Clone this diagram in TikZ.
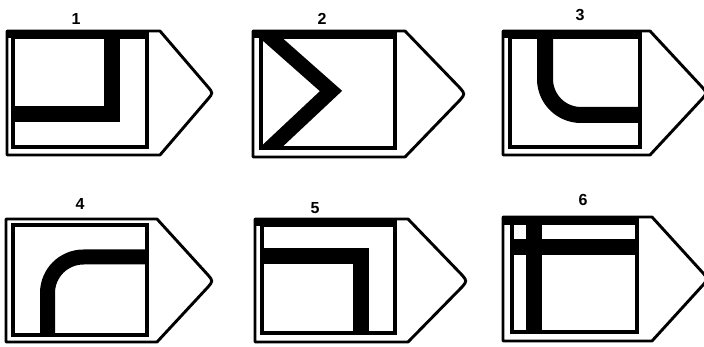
\documentclass[tikz,border=0pt]{standalone}
\usepackage{fontspec}
\setsansfont{Liberation Sans}
\usetikzlibrary{calc}
% #1 left, #2 top, #3 bottom, #4 shoulder x, #5 tip x, #6 tip y
\newcommand\signoutline[6]{%
  \draw[outer] (#1,#2) -- (#4,#2) -- ($(#5,#6)+(-5,-6)$) .. controls (#5,#6) .. ($(#5,#6)+(-5,6)$) -- (#4,#3) -- (#1,#3) -- cycle;}
\begin{document}
\begin{tikzpicture}[x=1pt,y=-1pt,
  outer/.style={draw=black,line width=2.9pt,line join=round},
  inner/.style={draw=black,line width=3.4pt},
  topband/.style={fill=black},
  band/.style={draw=black,line width=16pt,line cap=butt,line join=miter},
  lab/.style={font=\sffamily\bfseries\fontsize{16}{16}\selectfont,inner sep=0pt}]
\useasboundingbox (0,0) rectangle (704,347);
\fill[white] (0,0) rectangle (704,347);
\clip (0,0) rectangle (704,347);

% labels
\node[lab] (l1) at (76,19) {1};
\node[lab] (l2) at (322,19) {2};
\node[lab] (l3) at (580,15) {3};
\node[lab] (l4) at (80,204) {4};
\node[lab] (l5) at (315,208) {5};
\node[lab] (l6) at (583,200) {6};

% outlines
\signoutline{7}{31}{155}{160}{213}{93}
\signoutline{253}{31}{157}{405}{465}{94}
\signoutline{503}{31}{155}{650}{707}{93}
\signoutline{6}{219}{342}{157}{213}{281}
\signoutline{255}{219}{342}{408}{467}{281}
\signoutline{503}{217}{341}{652}{708}{279}

% thick top edges
\fill[topband] (6,30) rectangle (148.5,38);
\fill[topband] (252,30) rectangle (396.5,38);
\fill[topband] (502,30) rectangle (641.5,38);
\fill[topband] (254,218) rectangle (396.5,226);
\fill[topband] (502,216) rectangle (638.5,225);

% inner squares
\draw[inner] (13,37) rectangle (147,147);
\draw[inner] (261,37) rectangle (395,148);
\draw[inner] (510,37) rectangle (640,147);
\draw[inner] (13,225) rectangle (147,335);
\draw[inner] (262,225) rectangle (395,333);
\draw[inner] (512,223) rectangle (637,332);

% thick bands
\draw[band] (111.5,35) -- (111.5,114.5) -- (13,114.5);
\begin{scope}
  \clip (261,35) rectangle (395,148);
  \draw[band,line width=15pt] (262,30) -- (331,91) -- (266,152);
\end{scope}
\draw[band,rounded corners=36pt] (545,35) -- (545,115) -- (640,115);
\draw[band,line width=15pt,rounded corners=36pt] (147,257) -- (47.5,257) -- (47.5,336);
\draw[band] (262,256.5) -- (360.5,256.5) -- (360.5,333);
\draw[band] (512,247) -- (637,247);
\draw[band] (533.5,223) -- (533.5,332);
\end{tikzpicture}
\end{document}
